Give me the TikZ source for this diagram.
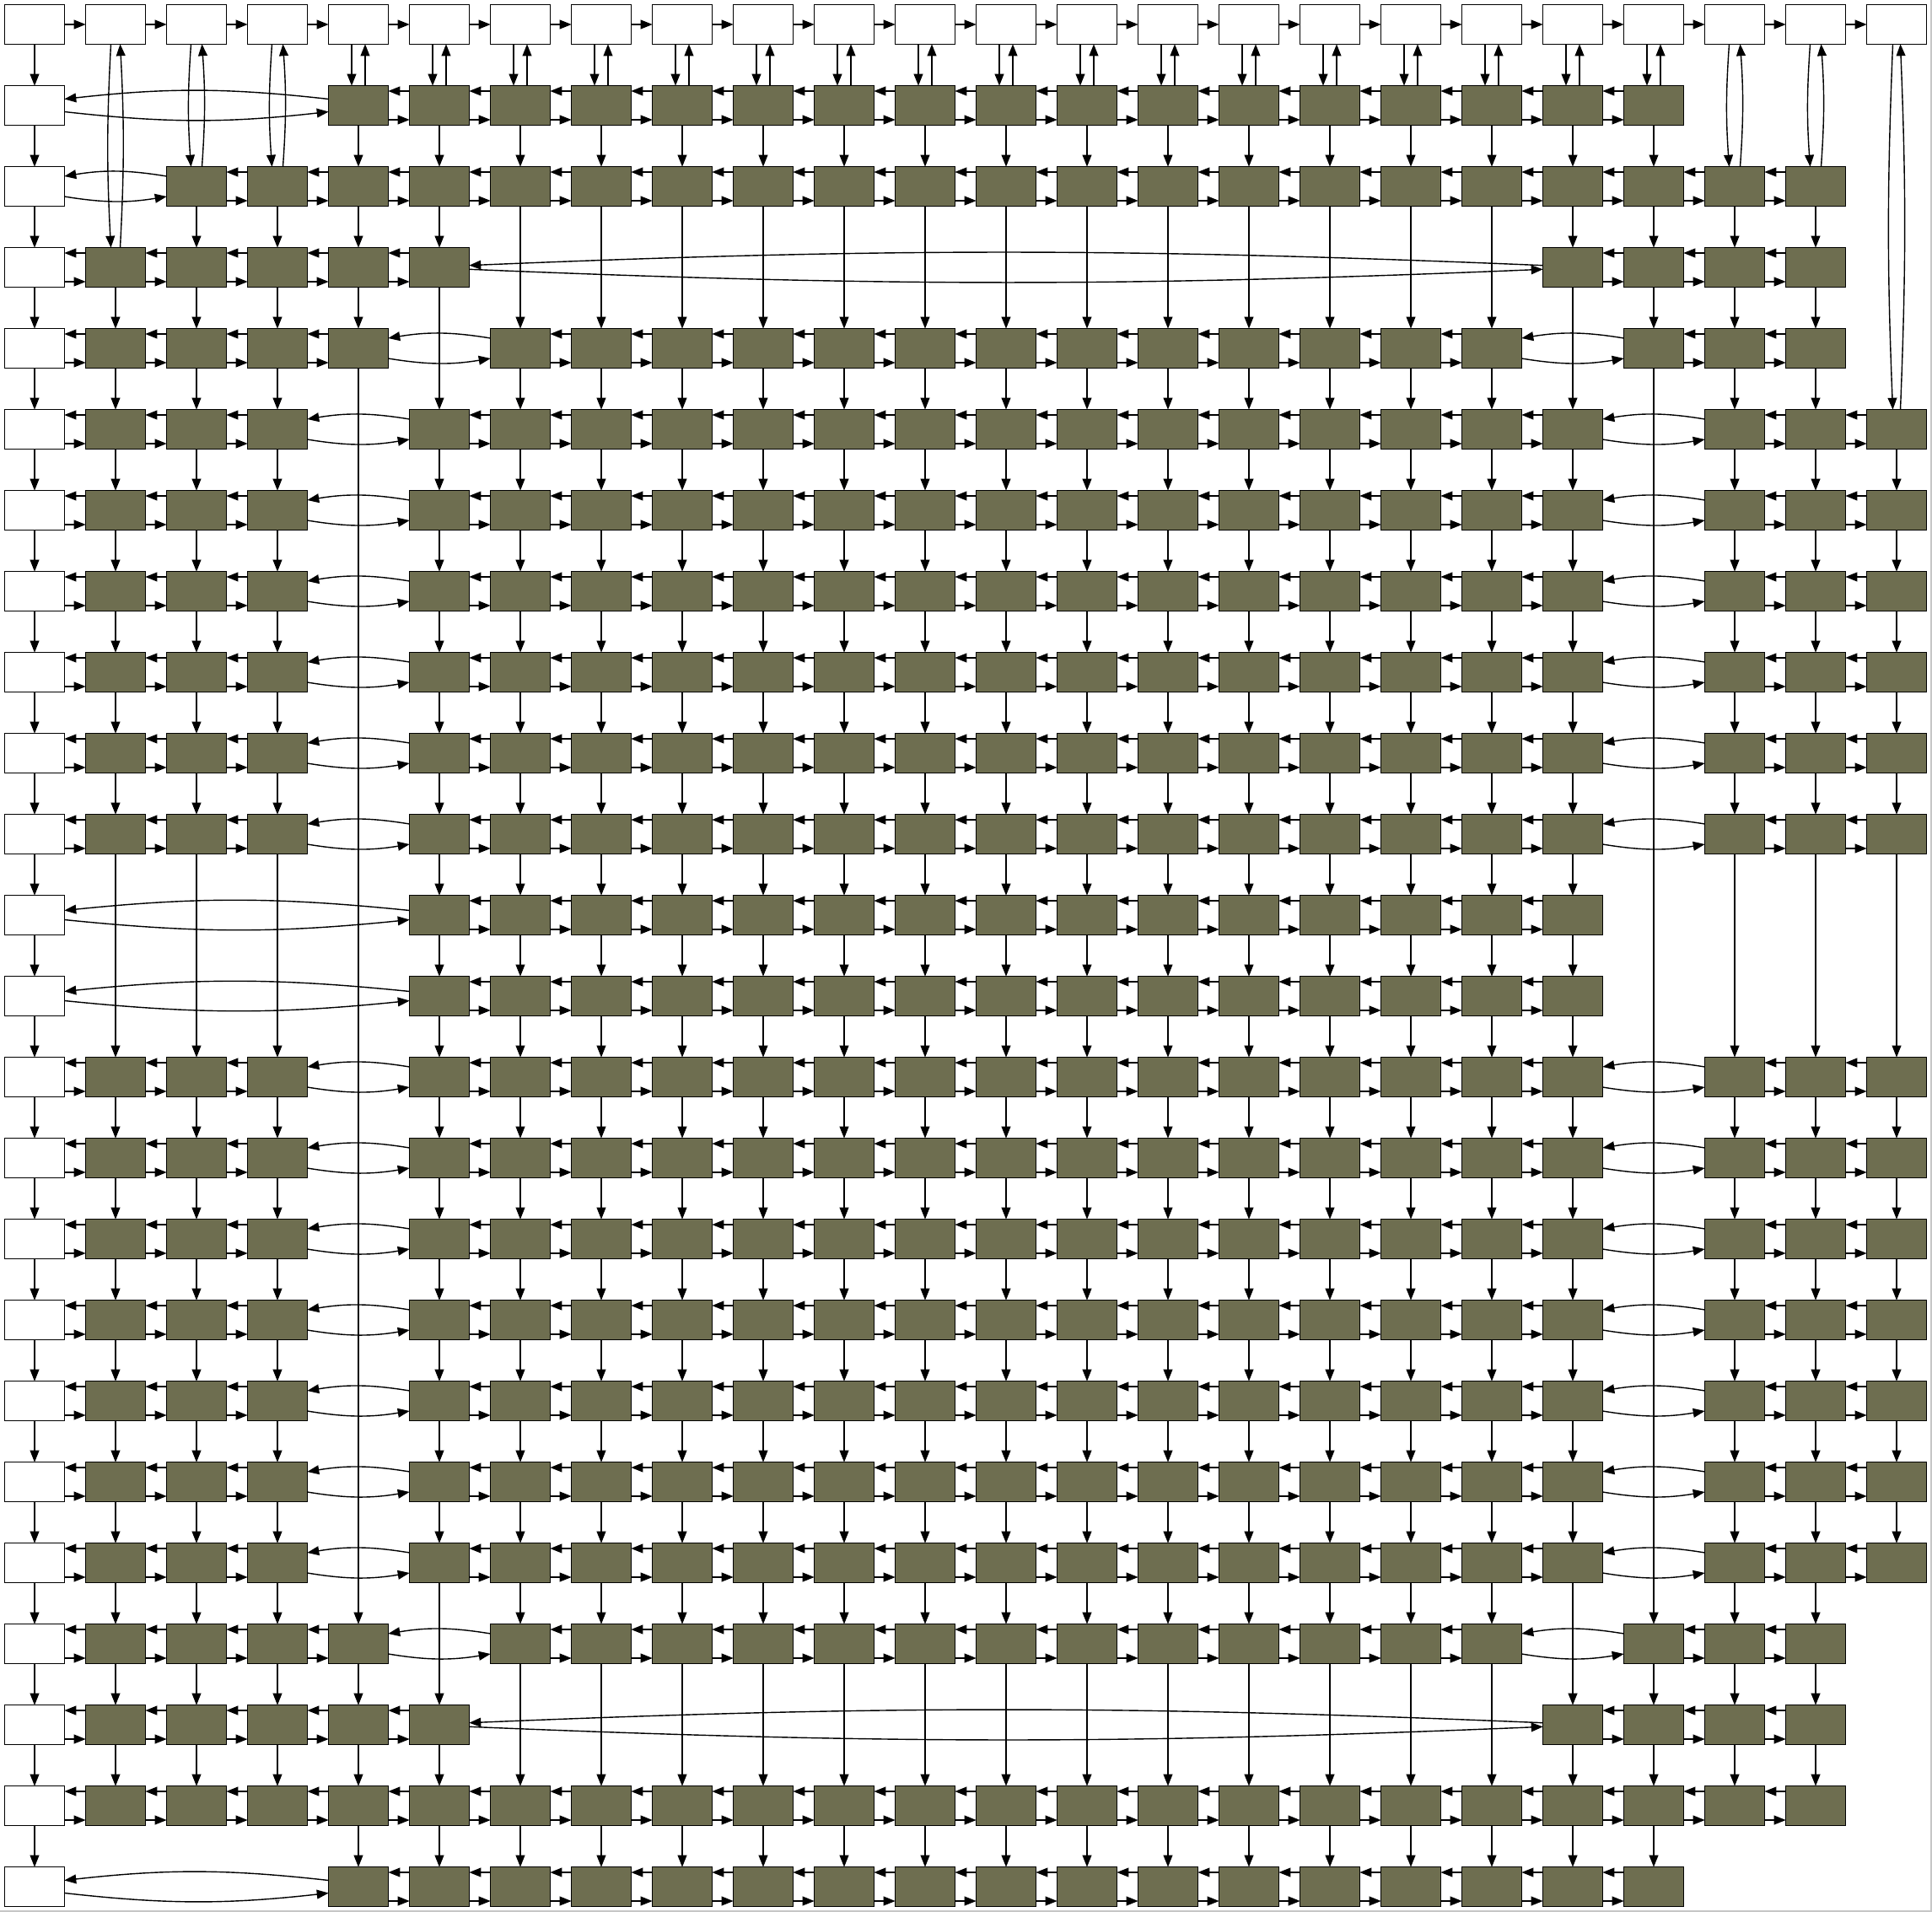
\documentclass[tikz,border=0pt]{standalone}
\usepackage{tikz}
\usetikzlibrary{arrows.meta}
\definecolor{cellolive}{RGB}{110,110,80}

\tikzset{
	hdr/.style={draw,fill=white,minimum width=17.65pt,minimum height=11.65pt,inner sep=0pt,outer sep=0pt},
	cell/.style={hdr,fill=cellolive},
}

\begin{document}
\begin{tikzpicture}[x=1pt,y=-1pt,line width=0.35pt,>={Triangle[length=3.5pt,width=2.7pt]}]
	\useasboundingbox (0,0) rectangle (572.75,566.75);
	% frame
	\draw[gray!45,line width=0.5pt] (572.5,0) -- (572.5,566.5) -- (0,566.5);
	% header row and header column
	\foreach \c in {0,...,23}{
		\node[hdr] (n-0-\c) at ({10.25+24*\c},7.25) {};
	}
	\foreach \r in {1,...,23}{
		\node[hdr] (n-\r-0) at (10.25,{7.25+24*\r}) {};
	}
	% cells, one row at a time
	\foreach \r/\segs in {1/{4/20},2/{2/22},3/{1/5,19/22},4/{1/4,6/18,20/22},
		5/{1/3,5/19,21/23},6/{1/3,5/19,21/23},7/{1/3,5/19,21/23},8/{1/3,5/19,21/23},
		9/{1/3,5/19,21/23},10/{1/3,5/19,21/23},11/{5/19},12/{5/19},
		13/{1/3,5/19,21/23},14/{1/3,5/19,21/23},15/{1/3,5/19,21/23},16/{1/3,5/19,21/23},
		17/{1/3,5/19,21/23},18/{1/3,5/19,21/23},19/{1/3,5/19,21/23},
		20/{1/4,6/18,20/22},21/{1/5,19/22},22/{1/22},23/{4/20}}{
		\foreach \a/\b in \segs{
			\foreach \c in {\a,...,\b}{
				\node[cell] (n-\r-\c) at ({10.25+24*\c},{7.25+24*\r}) {};
			}
		}
	}
	% header links
	\foreach \c [evaluate=\c as \d using int(\c+1)] in {0,...,22}{
		\draw[->] (n-0-\c) -- (n-0-\d);
		\draw[->] (n-\c-0) -- (n-\d-0);
	}
	% links along each row
	\foreach \r in {1,...,23}{
		\gdef\prevc{0}
		\foreach \c in {1,...,23}{
			\ifcsname pgf@sh@ns@n-\r-\c\endcsname
				\pgfmathtruncatemacro{\g}{\c-\prevc}
				\ifnum\g=1
					\draw[->] ([yshift=4.25pt]n-\r-\c.west) -- ([yshift=4.25pt]n-\r-\prevc.east);
					\draw[->] ([yshift=-4.25pt]n-\r-\prevc.east) -- ([yshift=-4.25pt]n-\r-\c.west);
				\else
					\pgfmathsetmacro{\off}{(\g==2)*3+(\g==4)*1.875+(\g==5)*1.375+(\g==14)*0.575}
					\pgfmathsetmacro{\bnd}{(\g==2)*9.3+(\g==4)*6.4+(\g==5)*5.8+(\g==14)*2.4}
					\draw[->] ([yshift=\off pt]n-\r-\c.west) to[bend right=\bnd] ([yshift=\off pt]n-\r-\prevc.east);
					\draw[->] ([yshift=-\off pt]n-\r-\prevc.east) to[bend right=\bnd] ([yshift=-\off pt]n-\r-\c.west);
				\fi
				\xdef\prevc{\c}
			\fi
		}
	}
	% links down each column
	\foreach \c in {1,...,23}{
		\gdef\prevr{0}
		\foreach \r in {1,...,23}{
			\ifcsname pgf@sh@ns@n-\r-\c\endcsname
				\ifnum\prevr=0
					\pgfmathsetmacro{\off}{(\r==1)*2+(\r==2)*1.625+(\r==3)*1.375+(\r==5)*1.125}
					\pgfmathsetmacro{\bnd}{(\r==2)*4+(\r==3)*3+(\r==5)*2.3}
					\draw[->] ([xshift=-\off pt]n-0-\c.south) to[bend right=\bnd] ([xshift=-\off pt]n-\r-\c.north);
					\draw[->] ([xshift=\off pt]n-\r-\c.north) to[bend right=\bnd] ([xshift=\off pt]n-0-\c.south);
				\else
					\draw[->] (n-\prevr-\c) -- (n-\r-\c);
				\fi
				\xdef\prevr{\r}
			\fi
		}
	}
\end{tikzpicture}
\end{document}
